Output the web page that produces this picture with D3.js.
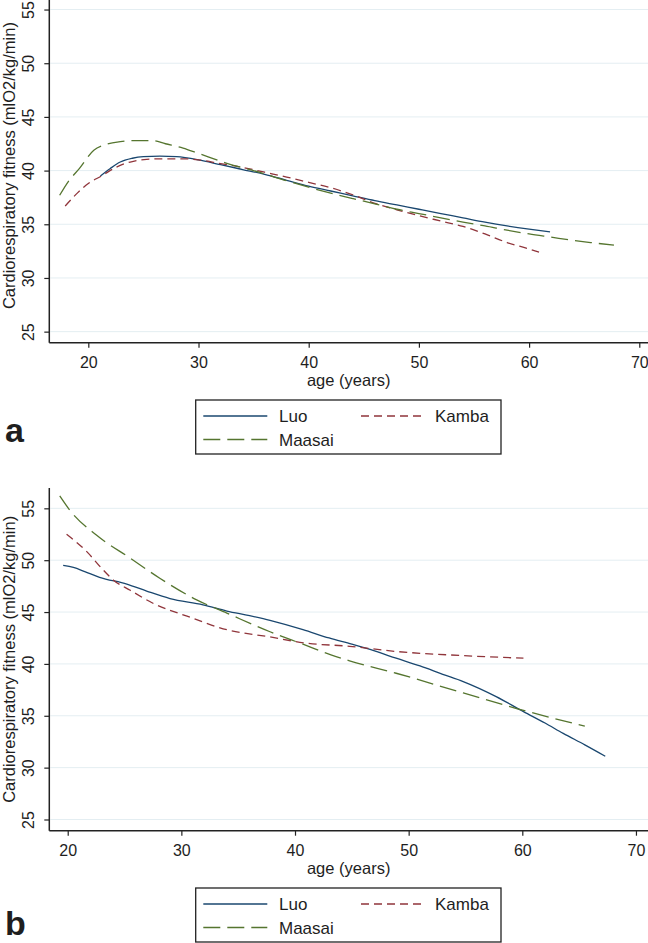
<!DOCTYPE html>
<html>
<head>
<meta charset="utf-8">
<script src="https://cdn.jsdelivr.net/npm/d3@7"></script>
<style>
  html, body { margin: 0; padding: 0; background: #ffffff; }
  svg { display: block; }
  text { font-family: "Liberation Sans", Arial, sans-serif; fill: #1e1e1e; }
</style>
</head>
<body>
<svg id="chart" width="648" height="943"></svg>
<script>
// ---------- DATA ----------
const seriesNames = ["Luo", "Kamba", "Maasai"];
const xTicks = [20, 30, 40, 50, 60, 70];
const yTicks = [25, 30, 35, 40, 45, 50, 55];
const xTitle = "age (years)";
const yTitle = "Cardiorespiratory fitness (mlO2/kg/min)";
const panelLabels = ["a", "b"];

// Panel a
const luoA_age   = [21.1, 22, 22.9, 24, 25, 26.5, 28, 30, 32, 34, 36, 38, 40, 42, 44, 46, 48, 50, 52, 54, 56, 58, 60, 61.9];
const luoA_fit   = [39.5, 40.2, 40.8, 41.15, 41.3, 41.35, 41.3, 41.0, 40.55, 40.1, 39.65, 39.1, 38.55, 38.1, 37.65, 37.2, 36.8, 36.4, 36.0, 35.6, 35.2, 34.85, 34.55, 34.3];
const kambaA_age = [17.9, 19, 20, 21.2, 22.5, 23.8, 25.3, 27, 28.5, 30, 32, 34, 36, 38, 40, 42, 44, 46, 48, 50, 52, 54, 56, 58, 60, 60.9];
const kambaA_fit = [36.7, 37.9, 38.8, 39.5, 40.3, 40.8, 41.05, 41.1, 41.1, 41.0, 40.65, 40.3, 39.85, 39.4, 38.9, 38.4, 37.75, 36.95, 36.35, 35.8, 35.3, 34.8, 34.1, 33.3, 32.7, 32.4];
const maasaiA_age = [17.4, 18.2, 19.2, 20.5, 21.5, 22.9, 24, 25.8, 27, 28.6, 30, 32.5, 35.5, 38, 40, 42, 44, 46, 48, 50, 52, 54, 56, 58, 60, 62, 64, 66, 67.7];
const maasaiA_fit = [37.7, 39.0, 40.2, 41.9, 42.4, 42.7, 42.8, 42.8, 42.5, 42.1, 41.6, 40.7, 39.85, 39.05, 38.45, 37.9, 37.4, 36.9, 36.4, 36.0, 35.6, 35.2, 34.85, 34.45, 34.1, 33.8, 33.5, 33.25, 33.05];

// Panel b
const luoB_age   = [19.6, 20.5, 21.5, 22.8, 25.2, 27, 29, 31.9, 34, 36, 37.8, 40.7, 43, 45, 47, 48.9, 51, 53, 54.8, 57.7, 60.1, 62, 63.6, 65.5, 67.3];
const luoB_fit   = [49.5, 49.3, 48.9, 48.35, 47.7, 47.0, 46.3, 45.7, 45.1, 44.65, 44.2, 43.3, 42.5, 41.9, 41.25, 40.55, 39.8, 39.0, 38.3, 36.85, 35.4, 34.3, 33.3, 32.2, 31.1];
const kambaB_age = [19.9, 21.7, 23, 24, 25.5, 27.5, 30.5, 34, 37.8, 41, 44.8, 48.9, 54.8, 60.1];
const kambaB_fit = [52.5, 50.8, 49.2, 48.1, 47.1, 45.85, 44.6, 43.3, 42.6, 42.0, 41.7, 41.2, 40.8, 40.55];
const maasaiB_age = [19.3, 20.2, 22.55, 25.5, 28.1, 31.3, 34, 37.8, 40.7, 43.1, 44.8, 48.9, 54.8, 59.5, 65.5];
const maasaiB_fit = [56.2, 54.8, 52.4, 50.2, 48.26, 46.2, 44.9, 43.1, 41.9, 40.9, 40.3, 39.1, 37.2, 35.7, 34.0];

// ---------- STYLE ----------
const colors = { Luo: "#1a476f", Kamba: "#90353b", Maasai: "#55752f" };
const dashes = { Luo: null, Kamba: "8,5", Maasai: "17,7" };

const svg = d3.select("#chart");
svg.append("rect").attr("width", 648).attr("height", 943).attr("fill", "#ffffff");

const panels = [
  {
    label: panelLabels[0],
    x: d3.scaleLinear().domain([16.46, 70.79]).range([49.3, 648]),
    y: d3.scaleLinear().domain([23.97, 56.96]).range([342.7, -11.5]),
    data: [
      ["Luo", luoA_age, luoA_fit],
      ["Kamba", kambaA_age, kambaA_fit],
      ["Maasai", maasaiA_age, maasaiA_fit]
    ],
    legendTop: 400, labelY: 442
  },
  {
    label: panelLabels[1],
    x: d3.scaleLinear().domain([18.38, 71.06]).range([49.3, 648]),
    y: d3.scaleLinear().domain([23.92, 56.96]).range([830.7, 488]),
    data: [
      ["Luo", luoB_age, luoB_fit],
      ["Kamba", kambaB_age, kambaB_fit],
      ["Maasai", maasaiB_age, maasaiB_fit]
    ],
    legendTop: 888, labelY: 935
  }
];

panels.forEach(p => {
  const g = svg.append("g");
  const [x0, x1] = p.x.range();
  const [yb, yt] = p.y.range();

  // gridlines
  g.append("g").selectAll("line").data(yTicks).join("line")
    .attr("x1", x0 + 1).attr("x2", x1)
    .attr("y1", d => p.y(d)).attr("y2", d => p.y(d))
    .attr("stroke", "#e4eef2").attr("stroke-width", 1);

  // series lines
  const line = d3.line().x(d => p.x(d[0])).y(d => p.y(d[1])).curve(d3.curveMonotoneX);
  p.data.forEach(([name, ages, fits]) => {
    const pts = ages.map((a, i) => [a, fits[i]]);
    g.append("path").datum(pts)
      .attr("d", line)
      .attr("fill", "none")
      .attr("stroke", colors[name])
      .attr("stroke-width", 1.3)
      .attr("stroke-dasharray", dashes[name]);
  });

  // x axis
  const xAxis = d3.axisBottom(p.x).tickValues(xTicks).tickSize(5).tickPadding(9).tickFormat(d3.format("d"));
  const gx = g.append("g").attr("transform", `translate(0,${yb})`).call(xAxis);
  gx.select(".domain").remove();
  gx.append("line").attr("x1", x0).attr("x2", x1).attr("stroke", "#222").attr("stroke-width", 1.5);
  gx.selectAll(".tick line").attr("stroke", "#222").attr("stroke-width", 1.2);
  gx.selectAll(".tick text").attr("font-size", 16).attr("fill", "#1e1e1e")
    .attr("font-family", '"Liberation Sans", Arial, sans-serif');

  // y axis
  const yAxis = d3.axisLeft(p.y).tickValues(yTicks).tickSize(5).tickPadding(4).tickFormat(d3.format("d"));
  const gy = g.append("g").attr("transform", `translate(${x0},0)`).call(yAxis);
  gy.select(".domain").remove();
  gy.append("line").attr("y1", yb).attr("y2", yt).attr("stroke", "#222").attr("stroke-width", 1.5);
  gy.selectAll(".tick line").attr("stroke", "#222").attr("stroke-width", 1.2);
  gy.selectAll(".tick text")
    .attr("font-size", 16).attr("fill", "#1e1e1e")
    .attr("font-family", '"Liberation Sans", Arial, sans-serif')
    .attr("text-anchor", "middle")
    .attr("x", null)
    .attr("transform", "translate(-21,0) rotate(-90)")
    .attr("y", 0).attr("dy", "0.35em");

  // axis titles
  g.append("text")
    .attr("x", (x0 + x1) / 2).attr("y", yb + 43)
    .attr("text-anchor", "middle").attr("font-size", 16.5)
    .text(xTitle);
  g.append("text")
    .attr("transform", `translate(15,${(yb + yt) / 2}) rotate(-90)`)
    .attr("text-anchor", "middle").attr("font-size", 16.5)
    .text(yTitle);

  // legend
  const lt = p.legendTop;
  const lg = g.append("g");
  lg.append("rect").attr("x", 195.7).attr("y", lt).attr("width", 305.3).attr("height", 54)
    .attr("fill", "#ffffff").attr("stroke", "#222").attr("stroke-width", 1.3);
  const items = [
    { name: seriesNames[0], lx: 203.3, tx: 279, y: lt + 16 },
    { name: seriesNames[1], lx: 361, tx: 435, y: lt + 16 },
    { name: seriesNames[2], lx: 203.3, tx: 279, y: lt + 39.5 }
  ];
  items.forEach(it => {
    lg.append("line").attr("x1", it.lx).attr("x2", it.lx + 64)
      .attr("y1", it.y).attr("y2", it.y)
      .attr("stroke", colors[it.name]).attr("stroke-width", 1.4)
      .attr("stroke-dasharray", dashes[it.name]);
    lg.append("text").attr("x", it.tx).attr("y", it.y).attr("dy", "0.36em")
      .attr("font-size", 17).text(it.name);
  });

  // panel label
  g.append("text").attr("x", 5).attr("y", p.labelY)
    .attr("font-size", 34).attr("font-weight", "bold")
    .attr("fill", "#000").text(p.label);
});
</script>
</body>
</html>
